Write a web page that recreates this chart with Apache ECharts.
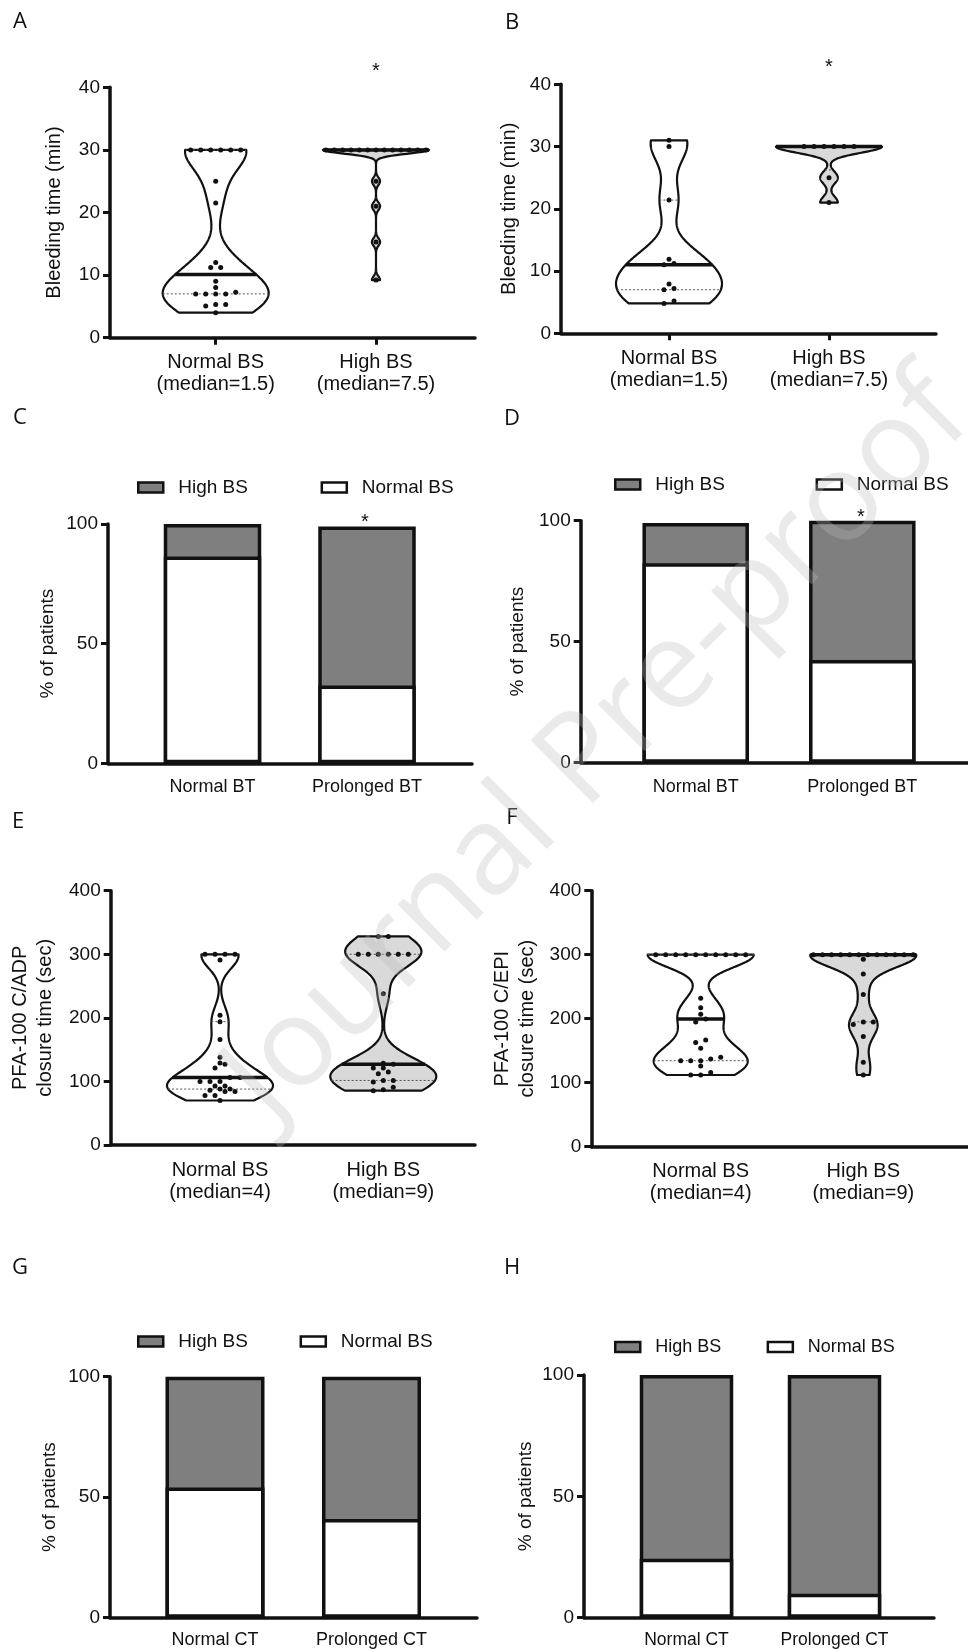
<!DOCTYPE html>
<html><head><meta charset="utf-8">
<script src="https://cdn.jsdelivr.net/npm/echarts@6/dist/echarts.min.js"></script>
<style>html,body{margin:0;padding:0;background:#fff}#c{width:968px;height:1652px}</style>
</head><body><div id="c"></div>
<script>
// ---------------- DATA ----------------
const violinCatsBT = ['Normal BS\n(median=1.5)', 'High BS\n(median=7.5)'];
const violinCatsCT = ['Normal BS\n(median=4)', 'High BS\n(median=9)'];
const barCatsBT = ['Normal BT', 'Prolonged BT'];
const barCatsCT = ['Normal CT', 'Prolonged CT'];
const seriesNames = ['High BS', 'Normal BS'];

// A: bleeding time (min), cohort 1
const A_normalBS = [30, 30, 30, 30, 30, 30, 25, 21.5, 12, 11.2, 11.2, 9, 8, 7.25, 7, 7, 7, 7, 5.3, 5.3, 5.06, 4];
const A_highBS = [30, 30, 30, 30, 30, 30, 30, 30, 30, 30, 30, 30, 30, 25, 21, 15.3, 9.2];
// B: bleeding time (min), cohort 2
const B_normalBS = [31, 30, 21.4, 11.9, 11.2, 11, 7.9, 7.2, 7, 5.2, 4.8];
const B_highBS = [30, 30, 30, 30, 30, 30, 25, 21];
// C/D: % of patients (stacked: Normal BS at bottom, High BS on top)
const C_normalBS = [86.4, 32.5];
const C_highBS = [13.6, 66.5];
const D_normalBS = [82.4, 42.4];
const D_highBS = [16.6, 57.6];
// E: PFA-100 C/ADP closure time (sec)
const E_normalBS = [300, 300, 300, 300, 291, 204, 194, 166, 138, 129, 127, 121, 106, 106, 100, 100, 100, 93, 93, 88, 88, 86, 84, 84, 78, 78, 70];
const E_highBS = [328, 328, 300, 300, 300, 300, 300, 300, 238, 128.5, 127, 121, 121, 115, 112, 101.5, 101.5, 99, 91, 87, 85.5];
// F: PFA-100 C/EPI closure time (sec)
const F_normalBS = [300, 300, 300, 300, 300, 300, 300, 300, 300, 300, 231.8, 217, 207, 199.5, 195, 166.7, 163, 153.7, 139.7, 137, 134.4, 134.4, 134.4, 126, 116, 112, 112];
const F_highBS = [300, 300, 300, 300, 300, 300, 300, 300, 300, 300, 300, 300, 293, 270, 238, 195, 195, 191, 172, 132, 112];
// G/H: % of patients (stacked)
const G_normalBS = [54, 41];
const G_highBS = [46, 59];
const H_normalBS = [24.3, 9.9];
const H_highBS = [75.7, 90.1];

// ---------------- LAYOUT / STYLE ----------------
const FONT = '"Liberation Sans", Arial, sans-serif';
const INK = '#111';
const panels = [
  {id:'A', L:{left:110, right:475, top:87.3, bottom:337.7, c1:215.7, c2:376}, cats:violinCatsBT, yMax:40, yInt:10, yName:'Bleeding time (min)', nameGap:43, nameSize:20, xTick:true, labSize:20, labMargin:14},
  {id:'B', L:{left:561, right:936, top:84.3, bottom:333.3, c1:669, c2:829}, cats:violinCatsBT, yMax:40, yInt:10, yName:'Bleeding time (min)', nameGap:39, nameSize:20, xTick:true, labSize:20, labMargin:14},
  {id:'C', L:{left:108, right:472, top:524, bottom:763.3, c1:212.5, c2:367}, cats:barCatsBT, yMax:100, yInt:50, yName:'% of patients', nameGap:48, nameSize:19, xTick:false, labSize:18, labMargin:13},
  {id:'D', L:{left:580.7, right:968, top:520.7, bottom:762.7, c1:695.7, c2:862.3}, cats:barCatsBT, yMax:100, yInt:50, yName:'% of patients', nameGap:50, nameSize:19, xTick:false, labSize:18, labMargin:13},
  {id:'E', L:{left:110.7, right:475, top:890.7, bottom:1145, c1:220, c2:383.3}, cats:violinCatsCT, yMax:400, yInt:100, yName:'PFA-100 C/ADP\nclosure time (sec)', nameGap:53, nameSize:20, xTick:false, labSize:20, labMargin:14},
  {id:'F', L:{left:591.3, right:968, top:890.7, bottom:1146.7, c1:700.7, c2:863.3}, cats:violinCatsCT, yMax:400, yInt:100, yName:'PFA-100 C/EPI\nclosure time (sec)', nameGap:51, nameSize:20, xTick:false, labSize:20, labMargin:14},
  {id:'G', L:{left:110, right:477, top:1376.7, bottom:1617.7, c1:215, c2:371.5}, cats:barCatsCT, yMax:100, yInt:50, yName:'% of patients', nameGap:48, nameSize:19, xTick:false, labSize:18, labMargin:11},
  {id:'H', L:{left:584, right:934, top:1375, bottom:1617.7, c1:686.5, c2:834.5}, cats:barCatsCT, yMax:100, yInt:50, yName:'% of patients', nameGap:43, nameSize:19, xTick:false, labSize:17.5, labMargin:11}
];

const violins = [
  {grid:0, x:1, values:A_normalBS, bw:3, fill:'#ffffff'},
  {grid:0, x:2, values:A_highBS, bw:0.6, fill:'#d9d9d9'},
  {grid:1, x:1, values:B_normalBS, bw:3, fill:'#ffffff'},
  {grid:1, x:2, values:B_highBS, bw:1, fill:'#d9d9d9'},
  {grid:4, x:1, values:E_normalBS, bw:20, fill:'#ffffff'},
  {grid:4, x:2, values:E_highBS, bw:22, fill:'#d9d9d9'},
  {grid:5, x:1, values:F_normalBS, bw:20, fill:'#ffffff'},
  {grid:5, x:2, values:F_highBS, bw:18, fill:'#d9d9d9'}
];

const bars = [
  {grid:2, normal:C_normalBS, high:C_highBS, barWidth:97.5},
  {grid:3, normal:D_normalBS, high:D_highBS, barWidth:106.5},
  {grid:6, normal:G_normalBS, high:G_highBS, barWidth:99},
  {grid:7, normal:H_normalBS, high:H_highBS, barWidth:93.5}
];

const HALF_W = 53;

// ---------------- HELPERS ----------------
function quantile(sorted, p) {
  const n = sorted.length, pos = p * (n + 1);
  if (pos <= 1) return sorted[0];
  if (pos >= n) return sorted[n - 1];
  const k = Math.floor(pos), f = pos - k;
  return sorted[k - 1] + f * (sorted[k] - sorted[k - 1]);
}
function density(sorted, bw, y) {
  let s = 0;
  for (const v of sorted) { const z = (y - v) / bw; s += Math.exp(-0.5 * z * z); }
  return s;
}
function prepViolin(v) {
  const sorted = v.values.slice().sort((a, b) => a - b);
  const lo = sorted[0], hi = sorted[sorted.length - 1];
  const N = 200, ys = [], ds = [];
  let dmax = 0;
  for (let i = 0; i <= N; i++) {
    const y = lo + (hi - lo) * i / N, d = density(sorted, v.bw, y);
    ys.push(y); ds.push(d); if (d > dmax) dmax = d;
  }
  return {sorted, ys, ds, dmax, med: quantile(sorted, 0.5), q1: quantile(sorted, 0.25), q3: quantile(sorted, 0.75)};
}

function bodyRenderer(v, P) {
  return function (params, api) {
    const cx = api.value(0);
    const right = [], left = [];
    for (let i = 0; i < P.ys.length; i++) {
      const p = api.coord([cx, P.ys[i]]);
      const w = P.ds[i] / P.dmax * HALF_W;
      right.push([p[0] + w, p[1]]); left.push([p[0] - w, p[1]]);
    }
    const children = [{type:'polygon', shape:{points: right.concat(left.reverse())},
      style:{fill: v.fill, stroke: INK, lineWidth: 2.2, lineJoin:'round'}}];
    for (const q of [P.q1, P.q3]) {
      const p = api.coord([cx, q]);
      const w = density(P.sorted, v.bw, q) / P.dmax * HALF_W;
      children.push({type:'line', shape:{x1:p[0]-w, y1:p[1], x2:p[0]+w, y2:p[1]},
        style:{stroke:'#555', lineWidth:1, lineDash:[2, 2]}});
    }
    const pm = api.coord([cx, P.med]);
    const wm = density(P.sorted, v.bw, P.med) / P.dmax * HALF_W;
    children.push({type:'line', shape:{x1:pm[0]-wm, y1:pm[1], x2:pm[0]+wm, y2:pm[1]},
      style:{stroke: INK, lineWidth: 3.5}, z2: 10});
    return {type:'group', children};
  };
}

function dotsRenderer(v, P) {
  let offs = null;
  return function (params, api) {
    if (params.dataIndex === 0 || !offs) {
      const vals = v.values;
      const py = vals.map(val => api.coord([v.x, val])[1]);
      const idx = vals.map((_, i) => i).sort((a, b) => vals[a] - vals[b]);
      const rows = []; let cur = null;
      for (const i of idx) {
        if (cur && Math.abs(py[i] - cur.start) <= 4) cur.items.push(i);
        else { cur = {start: py[i], items: [i]}; rows.push(cur); }
      }
      offs = vals.map(() => 0);
      for (const r of rows) {
        const n = r.items.length; if (n < 2) continue;
        const mv = r.items.reduce((s, i) => s + vals[i], 0) / n;
        const hw = density(P.sorted, v.bw, mv) / P.dmax * HALF_W;
        const sp = Math.min(10, Math.max(4, 2 * (hw - 3) / (n - 1)));
        r.items.forEach((i, k) => { offs[i] = (k - (n - 1) / 2) * sp; });
      }
    }
    const p = api.coord([api.value(0), api.value(1)]);
    return {type:'circle', shape:{cx: p[0] + offs[params.dataIndex], cy: p[1], r: 2.5}, style:{fill: INK}};
  };
}

// ---------------- OPTION ----------------
const grids = [], xAxes = [], yAxes = [];
panels.forEach((pn, i) => {
  const L = pn.L, unit = L.c2 - L.c1;
  grids.push({left: L.left, top: L.top, width: L.right - L.left, height: L.bottom - L.top, containLabel: false});
  xAxes.push({
    type:'value', gridIndex:i,
    min: 1 - (L.c1 - L.left) / unit, max: 2 + (L.right - L.c2) / unit,
    splitLine:{show:false},
    axisLine:{show:true, onZero:false, lineStyle:{color:INK, width:3.5}},
    axisTick:{show: pn.xTick, customValues:[1, 2], length:7, lineStyle:{color:INK, width:3}},
    axisLabel:{customValues:[1, 2], formatter: val => pn.cats[Math.round(val) - 1] || '',
      fontFamily: FONT, fontSize: pn.labSize, lineHeight: 22, color: INK, margin: pn.labMargin}
  });
  yAxes.push({
    type:'value', gridIndex:i, min:0, max:pn.yMax, interval:pn.yInt,
    splitLine:{show:false},
    axisLine:{show:true, onZero:false, lineStyle:{color:INK, width:3.5}},
    axisTick:{show:true, length:7, lineStyle:{color:INK, width:3}},
    axisLabel:{fontFamily: FONT, fontSize: 19, color: INK, margin: 10},
    name: pn.yName, nameLocation:'middle', nameGap: pn.nameGap,
    nameTextStyle:{fontFamily: FONT, fontSize: pn.nameSize, color: INK, lineHeight: 25}
  });
});

const series = [];
violins.forEach(v => {
  const P = prepViolin(v);
  series.push({type:'custom', coordinateSystem:'cartesian2d', xAxisIndex:v.grid, yAxisIndex:v.grid,
    data:[[v.x, P.med]], renderItem: bodyRenderer(v, P), z: 2, silent: true});
  series.push({type:'custom', coordinateSystem:'cartesian2d', xAxisIndex:v.grid, yAxisIndex:v.grid,
    data: v.values.map(val => [v.x, val]), renderItem: dotsRenderer(v, P), z: 3, silent: true});
});
// Stacked look: the High BS segment sits on top of the Normal BS segment.
// The High BS bar spans 0..(normal+high) and the Normal BS bar is drawn over it from 0..normal.
bars.forEach(b => {
  series.push({name:'High BS', type:'bar', xAxisIndex:b.grid, yAxisIndex:b.grid, barGap:'-100%',
    barWidth:b.barWidth, data: b.high.map((val, i) => [i + 1, b.normal[i] + val]), z: 2,
    itemStyle:{color:'#7f7f7f', borderColor:INK, borderWidth:3.5}});
  series.push({name:'Normal BS', type:'bar', xAxisIndex:b.grid, yAxisIndex:b.grid, barGap:'-100%',
    barWidth:b.barWidth, data: b.normal.map((val, i) => [i + 1, val]), z: 3,
    itemStyle:{color:'#ffffff', borderColor:INK, borderWidth:3.5}});
});

function mkLegend(left, top, gap, fs) {
  return {left, top, padding: 0, itemGap: gap, itemWidth: 25, itemHeight: 10, icon: 'rect', data: seriesNames,
    selectedMode: false, itemStyle:{borderColor: INK, borderWidth: 2.5},
    textStyle:{fontFamily: FONT, fontSize: fs, color: INK, padding:[0, 0, 0, 10]}};
}

const letters = [['A',20,22],['B',512,23],['C',20,418],['D',512,419],['E',18,822],['F',512,818],['G',20,1268],['H',512,1268]];
const stars = [[376,66],[829,62],[365,517],[861,512]];
const graphic = [];
letters.forEach(l => graphic.push({type:'text', x:l[1], y:l[2], style:{text:l[0], fontFamily:'"Open Sans", sans-serif', fontSize:22, fill:INK, align:'center', verticalAlign:'middle'}}));
stars.forEach(s => graphic.push({type:'text', x:s[0], y:s[1] + 5, style:{text:'*', fontFamily:FONT, fontSize:20, fill:INK, align:'center', verticalAlign:'middle'}}));
graphic.push({type:'text', x:598, y:748, rotation: Math.PI / 4, z: 100,
  style:{text:'Journal Pre-proof', fontFamily:'"Open Sans", sans-serif', fontSize:124, fill:'rgba(185,185,185,0.3)', align:'center', verticalAlign:'middle'}});

const chart = echarts.init(document.getElementById('c'), null, {renderer:'canvas'});
chart.setOption({
  animation: false,
  backgroundColor: '#ffffff',
  grid: grids, xAxis: xAxes, yAxis: yAxes, series,
  legend: [mkLegend(137, 478, 72.6, 19), mkLegend(614, 475, 90.6, 19), mkLegend(137, 1332, 51.6, 19), mkLegend(614, 1338, 45.3, 18)],
  graphic
});
</script></body></html>
